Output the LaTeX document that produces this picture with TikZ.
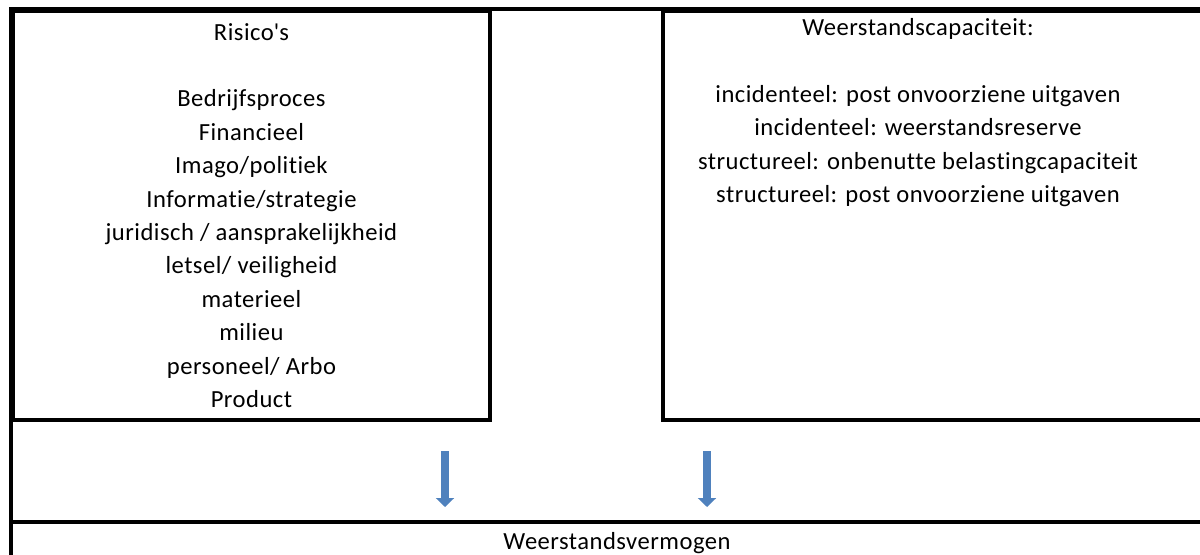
\documentclass[tikz,border=0pt]{standalone}
\usepackage{fontspec}
\setmainfont[LetterSpace=2,Ligatures=NoCommon]{Carlito}
\usetikzlibrary{arrows.meta,positioning}
\definecolor{arrowblue}{RGB}{79,129,189}
\begin{document}
\begin{tikzpicture}[line width=2.2pt,
    every node/.style={font=\fontsize{14}{19}\selectfont, align=center},
    frame/.style={draw, line width=2.2pt, inner sep=0pt},
    flow/.style={draw=arrowblue, line width=5.1pt, -{Triangle[width=10.2pt,length=5.1pt]}}]
        \useasboundingbox (0,0) rectangle (24,-11.08);
        \coordinate (TL) at (0.22,-0.18);
        \coordinate (TR) at (24.5,-0.18);
        \coordinate (BL) at (0.22,-11.5);
        \coordinate (ML) at (0.22,-10.44);
        \coordinate (MR) at (24.5,-10.44);
        \coordinate (A1) at (8.9,-9.02);
        \coordinate (B1) at (8.9,-10.14);
        \coordinate (A2) at (14.14,-9.02);
        \coordinate (B2) at (14.14,-10.14);
        
        
        \draw (BL) -- (TL) -- (TR);
        \draw (ML) -- (MR);
        
        
        \node[frame, minimum width=9.54cm, minimum height=8.18cm, anchor=north west] (risico) at (TL)
            {Risico\textquotesingle s\\[19pt]Bedrijfsproces\\Financieel\\Imago/politiek\\Informatie/strategie\\juridisch / aansprakelijkheid\\letsel/ veiligheid\\materieel\\milieu\\personeel/ Arbo\\Product};
        \node[frame, minimum width=11.3cm, minimum height=8.18cm, anchor=north west] (capbox) at (13.22,-0.18) {};
        \node[anchor=north, inner sep=0pt] (captext) at (18.36,-0.33)
            {Weerstandscapaciteit:\\[19pt]incidenteel: post onvoorziene uitgaven\\incidenteel: weerstandsreserve\\structureel: onbenutte belastingcapaciteit\\structureel: post onvoorziene uitgaven};
        \node (vermogen) at (12.34,-10.86) {Weerstandsvermogen};
        
        
        \draw[flow] (A1) -- (B1);
        \draw[flow] (A2) -- (B2);
    \end{tikzpicture}
\end{document}
